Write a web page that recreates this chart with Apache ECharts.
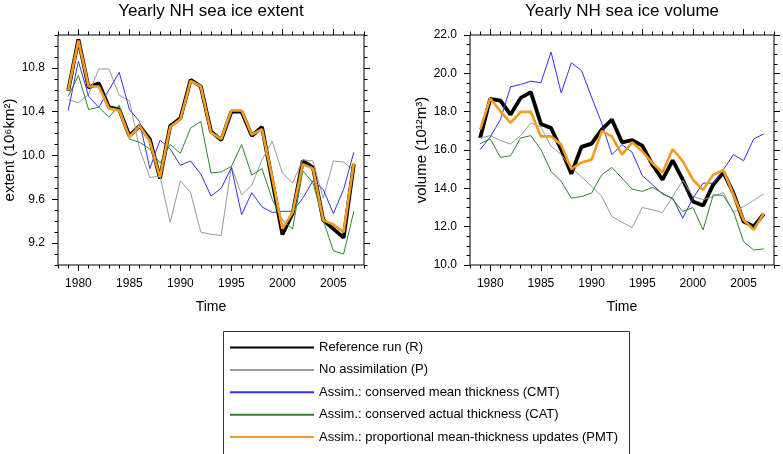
<!DOCTYPE html>
<html>
<head>
<meta charset="utf-8">
<script src="https://cdn.jsdelivr.net/npm/echarts@6/dist/echarts.min.js"></script>
<style>
  html, body { margin: 0; padding: 0; background: #fff; }
  #chart { width: 783px; height: 454px; }
</style>
</head>
<body>
<div id="chart"></div>
<script>
// years of the runs
const years = [1979, 1980, 1981, 1982, 1983, 1984, 1985, 1986, 1987, 1988,
  1989, 1990, 1991, 1992, 1993, 1994, 1995, 1996, 1997, 1998,
  1999, 2000, 2001, 2002, 2003, 2004, 2005, 2006, 2007];

// sea ice extent (10^6 km^2)
const extentR = [10.59, 11.06, 10.62, 10.66, 10.44, 10.42, 10.18, 10.27, 10.15, 9.79,
  10.27, 10.34, 10.69, 10.63, 10.22, 10.14, 10.40, 10.40, 10.18, 10.26,
  9.77, 9.28, 9.47, 9.95, 9.89, 9.41, 9.33, 9.25, 9.92];
const extentP = [10.51, 10.48, 10.56, 10.79, 10.79, 10.55, 10.50, 10.06, 9.80, 9.81,
  9.39, 9.77, 9.66, 9.30, 9.28, 9.27, 9.90, 9.64, 9.73, 9.96,
  10.13, 9.84, 9.75, 9.96, 9.95, 9.61, 9.95, 9.94, 9.86];
const extentCMT = [10.41, 10.86, 10.54, 10.44, 10.60, 10.76, 10.42, 10.31, 9.88, 10.14,
  10.06, 9.91, 9.95, 9.83, 9.63, 9.70, 9.89, 9.46, 9.66, 9.53,
  9.48, 9.49, 9.49, 9.61, 9.77, 9.69, 9.47, 9.69, 10.03];
const extentCAT = [10.54, 10.73, 10.42, 10.44, 10.35, 10.46, 10.15, 10.12, 10.06, 9.93,
  10.10, 10.02, 10.25, 10.31, 9.84, 9.85, 9.90, 10.10, 9.82, 9.88,
  9.60, 9.41, 9.33, 9.86, 9.75, 9.41, 9.13, 9.10, 9.49];
const extentPMT = [10.59, 11.05, 10.63, 10.63, 10.43, 10.41, 10.17, 10.27, 10.13, 9.80,
  10.26, 10.33, 10.68, 10.63, 10.21, 10.15, 10.41, 10.41, 10.19, 10.24,
  9.80, 9.33, 9.48, 9.92, 9.88, 9.41, 9.37, 9.30, 9.93];

// sea ice volume (10^12 m^3)
const volumeR = [16.63, 18.67, 18.58, 17.85, 18.72, 19.02, 17.36, 17.15, 16.02, 14.76,
  16.16, 16.33, 17.06, 17.59, 16.40, 16.51, 16.23, 15.23, 14.45, 15.46,
  14.45, 13.31, 13.10, 14.19, 14.83, 13.75, 12.27, 12.01, 12.67];
const volumeP = [16.63, 16.75, 16.49, 16.31, 16.75, 17.41, 17.20, 16.19, 15.76, 15.06,
  14.60, 14.10, 13.58, 12.53, 12.23, 11.95, 13.00, 12.88, 12.74, 13.58,
  14.41, 13.58, 13.40, 13.58, 13.78, 12.74, 13.05, 13.37, 13.72];
const volumeCMT = [16.02, 16.68, 17.59, 19.30, 19.42, 19.59, 19.51, 21.11, 18.98, 20.55,
  20.15, 18.75, 17.41, 15.76, 16.28, 15.88, 14.67, 14.19, 13.70, 13.49,
  12.44, 13.49, 14.27, 14.27, 14.97, 15.76, 15.44, 16.58, 16.84];
const volumeCAT = [16.33, 16.58, 15.62, 15.70, 16.63, 16.75, 16.02, 14.88, 14.36, 13.49,
  13.57, 13.75, 14.71, 15.09, 14.53, 13.96, 13.84, 14.05, 13.75, 13.44,
  12.79, 13.00, 11.83, 13.66, 13.63, 12.79, 11.22, 10.78, 10.84];
const volumePMT = [17.06, 18.69, 18.02, 17.41, 17.99, 17.99, 16.71, 16.71, 16.28, 15.01,
  15.35, 15.49, 16.98, 16.71, 15.76, 16.40, 15.93, 15.32, 14.83, 16.05,
  15.41, 14.45, 13.92, 14.71, 14.94, 13.66, 12.35, 11.83, 12.70];

// tick labels
const yearTicks = [1980, 1985, 1990, 1995, 2000, 2005];
const extentTicks = [9.2, 9.6, 10.0, 10.4, 10.8];
const volumeTicks = [10, 12, 14, 16, 18, 20, 22];

const names = [
  'Reference run (R)',
  'No assimilation (P)',
  'Assim.: conserved mean thickness (CMT)',
  'Assim.: conserved actual thickness (CAT)',
  'Assim.: proportional mean-thickness updates (PMT)'
];
const colors = ['#000000', '#9a9a9a', '#3333e6', '#2a8a2a', '#f59b1e'];
const widths = [3.8, 1, 1, 1, 2.6];

const FONT = '"Liberation Sans", Arial, Helvetica, sans-serif';
const tickLine = { color: '#000', width: 1 };

// four axes per direction: labelled major, minor, mirrored major, mirrored minor
function xAxes(grid) {
  const base = { type: 'value', gridIndex: grid, min: 1978, max: 2008,
    axisLine: { show: false }, splitLine: { show: false } };
  const major = { show: true, customValues: yearTicks, length: 6, lineStyle: tickLine };
  const minor = { show: true, length: 3.5, lineStyle: tickLine };
  return [
    Object.assign({}, base, {
      position: 'bottom', axisTick: major,
      axisLabel: { customValues: yearTicks, margin: 13, color: '#000', fontSize: 12,
        fontFamily: FONT, formatter: v => String(v) },
      name: 'Time', nameLocation: 'middle', nameGap: 35,
      nameTextStyle: { fontSize: 14, color: '#000', fontFamily: FONT }
    }),
    Object.assign({}, base, { position: 'bottom', interval: 1, axisTick: minor, axisLabel: { show: false } }),
    Object.assign({}, base, { position: 'top', axisTick: major, axisLabel: { show: false } }),
    Object.assign({}, base, { position: 'top', interval: 1, axisTick: minor, axisLabel: { show: false } })
  ];
}

function yAxes(grid, min, max, majors, minorStep, name, gap) {
  const base = { type: 'value', gridIndex: grid, min: min, max: max,
    axisLine: { show: false }, splitLine: { show: false } };
  const major = { show: true, customValues: majors, length: 6, lineStyle: tickLine };
  const minor = { show: true, length: 3.5, lineStyle: tickLine };
  return [
    Object.assign({}, base, {
      position: 'left', axisTick: major,
      axisLabel: { customValues: majors, margin: 13, color: '#000', fontSize: 12,
        fontFamily: FONT, formatter: v => v.toFixed(1) },
      name: name, nameLocation: 'middle', nameGap: gap,
      nameTextStyle: { fontSize: 15, color: '#000', fontFamily: FONT }
    }),
    Object.assign({}, base, { position: 'left', interval: minorStep, axisTick: minor, axisLabel: { show: false } }),
    Object.assign({}, base, { position: 'right', axisTick: major, axisLabel: { show: false } }),
    Object.assign({}, base, { position: 'right', interval: minorStep, axisTick: minor, axisLabel: { show: false } })
  ];
}

function line(i, values, axisIndex) {
  return {
    name: names[i], type: 'line', xAxisIndex: axisIndex, yAxisIndex: axisIndex,
    data: years.map((y, k) => [y, values[k]]),
    symbol: 'none', silent: true, animation: false,
    lineStyle: { color: colors[i], width: widths[i] },
    itemStyle: { color: colors[i] }
  };
}

const extentSets = [extentR, extentP, extentCMT, extentCAT, extentPMT];
const volumeSets = [volumeR, volumeP, volumeCMT, volumeCAT, volumePMT];

const chart = echarts.init(document.getElementById('chart'));
chart.setOption({
  backgroundColor: '#fff',
  animation: false,
  textStyle: { fontFamily: FONT },
  title: [
    { text: 'Yearly NH sea ice extent', left: 211, top: 3, textAlign: 'center', padding: 0,
      textStyle: { fontSize: 17, fontWeight: 'normal', color: '#000', fontFamily: FONT } },
    { text: 'Yearly NH sea ice volume', left: 622, top: 3, textAlign: 'center', padding: 0,
      textStyle: { fontSize: 17, fontWeight: 'normal', color: '#000', fontFamily: FONT } }
  ],
  grid: [
    { left: 58, top: 35, width: 306, height: 230, show: true, borderColor: '#000', borderWidth: 1, backgroundColor: 'transparent' },
    { left: 470, top: 35, width: 304, height: 230, show: true, borderColor: '#000', borderWidth: 1, backgroundColor: 'transparent' }
  ],
  xAxis: xAxes(0).concat(xAxes(1)),
  yAxis: yAxes(0, 9.0, 11.1, extentTicks, 0.1, 'extent (10\u2076km\u00b2)', 33)
    .concat(yAxes(1, 10, 22, volumeTicks, 0.5, 'volume (10\u00b9\u00b2m\u00b3)', 34)),
  legend: {
    orient: 'vertical', left: 229, top: 341, padding: 0,
    itemWidth: 84, itemHeight: 14, itemGap: 9.4, selectedMode: false,
    itemStyle: { opacity: 0 },
    textStyle: { fontSize: 13, color: '#000', fontFamily: FONT },
    data: names
  },
  graphic: [
    { type: 'rect', shape: { x: 223.5, y: 331.5, width: 406, height: 150 },
      style: { fill: 'none', stroke: '#333', lineWidth: 1 }, silent: true }
  ],
  series: extentSets.map((d, i) => line(i, d, 0))
    .concat(volumeSets.map((d, i) => line(i, d, 4)))
});
</script>
</body>
</html>
